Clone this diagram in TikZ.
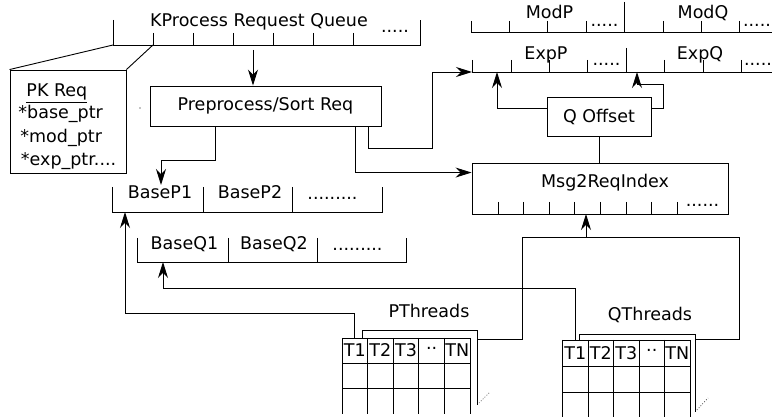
\documentclass[tikz,border=0pt]{standalone}
\usepackage{fontspec}
\setmainfont{DejaVu Sans}
\usetikzlibrary{arrows.meta}

\begin{document}
\begin{tikzpicture}[x=1pt, y=-1pt, line width=0.9pt,
    font=\fontsize{17.5}{21}\selectfont,
    >={Stealth[length=16pt,width=10pt]},
    lbl/.style={anchor=base, inner sep=0pt},
    box/.style={draw, inner sep=0pt},
    cell/.style={minimum width=25, minimum height=25, inner sep=0pt}]
    \useasboundingbox (0,0) rectangle (772,419);

    % request queue
    \draw (113,20) -- (113,45) -- (420,45) -- (420,20);
    \foreach \x in {153,193,...,353} \draw (\x,33) -- (\x,45);
    \node[lbl] (kqueue) at (259,27) {KProcess Request Queue};
    \node[lbl] (kqdots) at (395,33) {.....};
    \coordinate (kq0) at (113,45);
    \coordinate (kq1) at (153,45);
    \coordinate (kqout) at (253,50);

    % PK Req
    \node[box, minimum width=116, minimum height=103] (pkreq) at (68,121.5) {};
    \draw (pkreq.north west) -- (kq0);
    \draw (pkreq.north east) -- (kq1);
    \node[lbl, anchor=base west] (pkname) at (26,97) {\underline{PK Req}};
    \node[lbl, anchor=base west] (pkbase) at (18,119) {*base\_ptr};
    \node[lbl, anchor=base west] (pkmod) at (20,142.5) {*mod\_ptr};
    \node[lbl, anchor=base west] (pkexp) at (20.5,165.5) {*exp\_ptr....};
    \fill (140,108) circle (0.7);

    % preprocess
    \node[box, minimum width=231, minimum height=40] (preproc) at (265.5,106) {Preprocess/Sort Req};
    \draw[->] (kqout) -- (kqout |- preproc.north);

    % base arrays
    \draw (112,187) -- (112,212) -- (382,212) -- (382,187);
    \draw (203,187) -- (203,212);
    \draw (292,187) -- (292,212);
    \node[lbl] (bp1) at (160,199) {BaseP1};
    \node[lbl] (bp2) at (250,199) {BaseP2};
    \node[lbl] (bpdots) at (332.5,200) {.........};
    \coordinate (bp1in) at (161,185);
    \coordinate (bpin) at (125,212);

    \draw (137,238) -- (137,262) -- (406,262) -- (406,238);
    \draw (228,238) -- (228,262);
    \draw (317,238) -- (317,262);
    \node[lbl] (bq1) at (184.5,249.5) {BaseQ1};
    \node[lbl] (bq2) at (274,249.5) {BaseQ2};
    \node[lbl] (bqdots) at (357.5,250.5) {.........};
    \coordinate (bqin) at (163,262);

    % mod and exp rows
    \draw (471,21) -- (471,32) -- (772,32);
    \draw (624,2) -- (624,32);
    \foreach \x in {509,547,586,663,701,739} \draw (\x,21) -- (\x,32);
    \node[lbl] (modp) at (549.5,19) {ModP};
    \node[lbl] (modq) at (703,19) {ModQ};
    \node[lbl] (mdots1) at (604.5,27) {.....};
    \node[lbl] (mdots2) at (757,27) {.....};

    \draw (472,60) -- (472,72) -- (772,72);
    \draw (626,48) -- (626,72);
    \foreach \x in {511,549,587,664,703,741} \draw (\x,60) -- (\x,72);
    \node[lbl] (expp) at (546,59.5) {ExpP};
    \node[lbl] (expq) at (700,59.5) {ExpQ};
    \node[lbl] (edots1) at (606.5,66) {.....};
    \node[lbl] (edots2) at (758,66) {.....};
    \coordinate (expin) at (472,72);
    \coordinate (expa) at (497,72);
    \coordinate (expb) at (637,72);

    % offsets and index
    \node[box, minimum width=104, minimum height=39] (qoff) at (599,116.5) {Q Offset};
    \node[box, minimum width=256, minimum height=51] (msgidx) at (600,188.5) {};
    \node[lbl] (msgname) at (605,188) {Msg2ReqIndex};
    \foreach \k in {0,...,7} \draw (498+25.6*\k,202) -- +(0,12);
    \node[lbl] (msgdots) at (702.5,207) {......};
    \coordinate (mrin) at (586,214);
    \coordinate (mrsrc) at (586,237);

    \draw[->] ([yshift=8pt]qoff.west) -| (expa);
    \draw[->] ([yshift=8pt]qoff.east) -| (663,84) -| (expb);
    \draw (qoff.south) -- (qoff.south |- msgidx.north);

    \draw[->] ([xshift=66pt]preproc.south west) |- (161,160) -- (bp1in);
    \draw[->] ([xshift=206pt]preproc.south west) |- ([yshift=-10pt]msgidx.north west);
    \draw[->] ([xshift=219pt]preproc.south west) |- (432,148) |- (expin);

    % P threads
    \foreach \y in {338,363,388} \draw (342,\y) -- (470,\y);
    \foreach \k in {0,...,5} \draw (342+25.6*\k,338) -- (342+25.6*\k,414);
    \draw (362,338) -- (362,330) -- (477,330) -- (477,405);
    \draw[dotted, line width=0.7pt] (479,403) -- (490,392);
    \foreach \t [count=\k] in {T1,T2,T3,··,TN}
        \node[cell] (p\k) at (329.2+25.6*\k,350.5) {\t};
    \node[lbl] (plbl) at (429,318) {PThreads};
    \coordinate (pback) at (477,339);

    % Q threads
    \foreach \y in {340,366,392} \draw (562.5,\y) -- (690,\y);
    \foreach \k in {0,...,5} \draw (562.5+25.5*\k,340) -- (562.5+25.5*\k,417);
    \draw (579,340) -- (579,334) -- (695,334) -- (695,412);
    \draw[dotted, line width=0.7pt] (697,410) -- (708,398);
    \foreach \t [count=\k] in {T1,T2,T3,··,TN}
        \node[cell] (q\k) at (549.75+25.5*\k,353) {\t};
    \node[lbl] (qlbl) at (650,321) {QThreads};
    \coordinate (qback) at (695,339);

    % thread links
    \draw[->] (p1.north) |- (125,313) -- (bpin);
    \draw[->] (q1.north) |- (163,288) -- (bqin);
    \draw (pback) -| (522,237) -| (739,339) -- (qback);
    \draw[->] (mrsrc) -- (mrin);
\end{tikzpicture}
\end{document}
